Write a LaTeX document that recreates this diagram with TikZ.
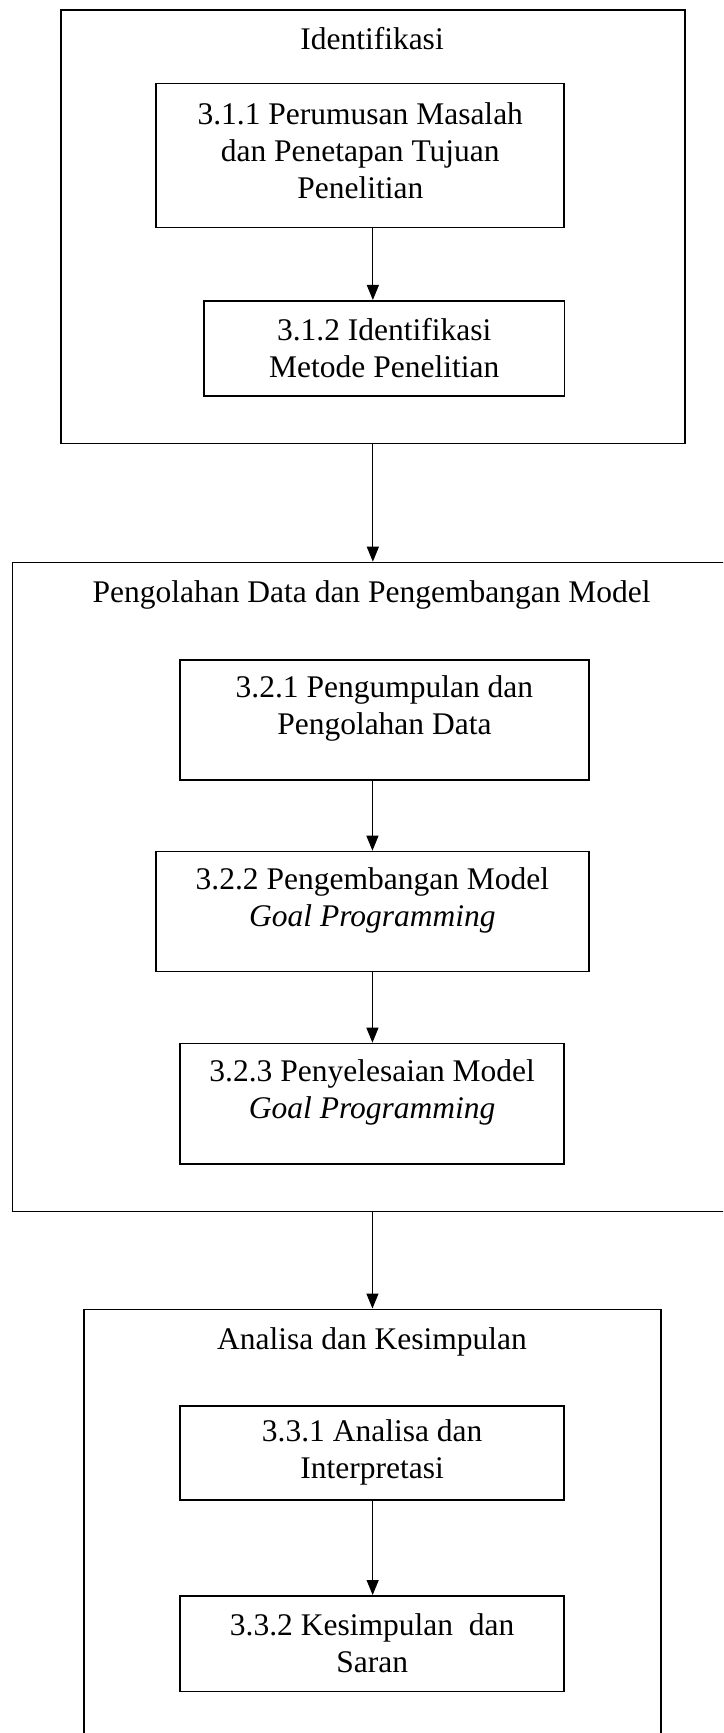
\documentclass[tikz,border=0pt]{standalone}
\usepackage{fontspec}
\setmainfont{Liberation Serif}
\usepackage{tikz}
\usetikzlibrary{arrows.meta}

\begin{document}
\begin{tikzpicture}[x=0.5pt, y=-0.5pt,
		font=\fontsize{15.75}{18.5}\selectfont,
		frame/.style={draw, line width=0.85pt, anchor=north west, inner sep=0pt},
		stepbox/.style={draw, line width=0.85pt, anchor=north west, align=center, inner sep=2pt},
		lifted/.style={text depth=#1},
		grouptitle/.style={anchor=base},
		flow/.style={-{Triangle[length=7.5pt,width=6pt]}, line width=0.6pt}]
		\clip (0,0) rectangle (723,1733);
		% kelompok tahap
		\node[frame, minimum width=312pt, minimum height=216.7pt] (f1) at (60,9.3) {};
		\node[frame, minimum width=360.1pt, minimum height=324.5pt] (f2) at (11.5,561.7) {};
		\node[frame, minimum width=288.4pt, minimum height=226pt] (f3) at (83.4,1308.5) {};
		\node[grouptitle] (t1) at (372,50) {Identifikasi};
		\node[grouptitle] (t2) at (371.6,602.5) {Pengolahan Data dan Pengembangan Model};
		\node[grouptitle] (t3) at (372,1349.3) {Analisa dan Kesimpulan};
		% langkah
		\node[stepbox, lifted=5pt, minimum width=204pt, minimum height=72pt] (b311) at (155.4,82.7)
			{3.1.1 Perumusan Masalah\\dan Penetapan Tujuan\\Penelitian};
		\node[stepbox, minimum width=180.1pt, minimum height=47.5pt] (b312) at (203.3,300)
			{3.1.2 Identifikasi\\Metode Penelitian};
		\node[stepbox, lifted=14.5pt, minimum width=204.25pt, minimum height=60pt] (b321) at (179.3,659)
			{3.2.1 Pengumpulan dan\\Pengolahan Data};
		\node[stepbox, lifted=14.5pt, minimum width=216.2pt, minimum height=60pt] (b322) at (155.4,850.7)
			{3.2.2 Pengembangan Model\\\textit{Goal Programming}};
		\node[stepbox, lifted=14.5pt, minimum width=192pt, minimum height=60.3pt] (b323) at (179.3,1042.7)
			{3.2.3 Penyelesaian Model\\\textit{Goal Programming}};
		\node[stepbox, minimum width=192pt, minimum height=47pt] (b331) at (179.3,1405)
			{3.3.1 Analisa dan\\Interpretasi};
		\node[stepbox, minimum width=192pt, minimum height=47.85pt] (b332) at (179.3,1595)
			{3.3.2 Kesimpulan~ dan\\Saran};
		%\path[->] (b311) edge (b312);
		\path[flow]
		(b311.south -| f1.south) edge (b312.north -| f1.south)
		(f1.south) edge (f1.south |- f2.north)
		(b321.south -| f2.south) edge (b322.north -| f2.south)
		(b322.south -| f2.south) edge (b323.north -| f2.south)
		(f2.south) edge (f2.south |- f3.north)
		(b331.south -| f3.south) edge (b332.north -| f3.south);
\end{tikzpicture}
\end{document}
